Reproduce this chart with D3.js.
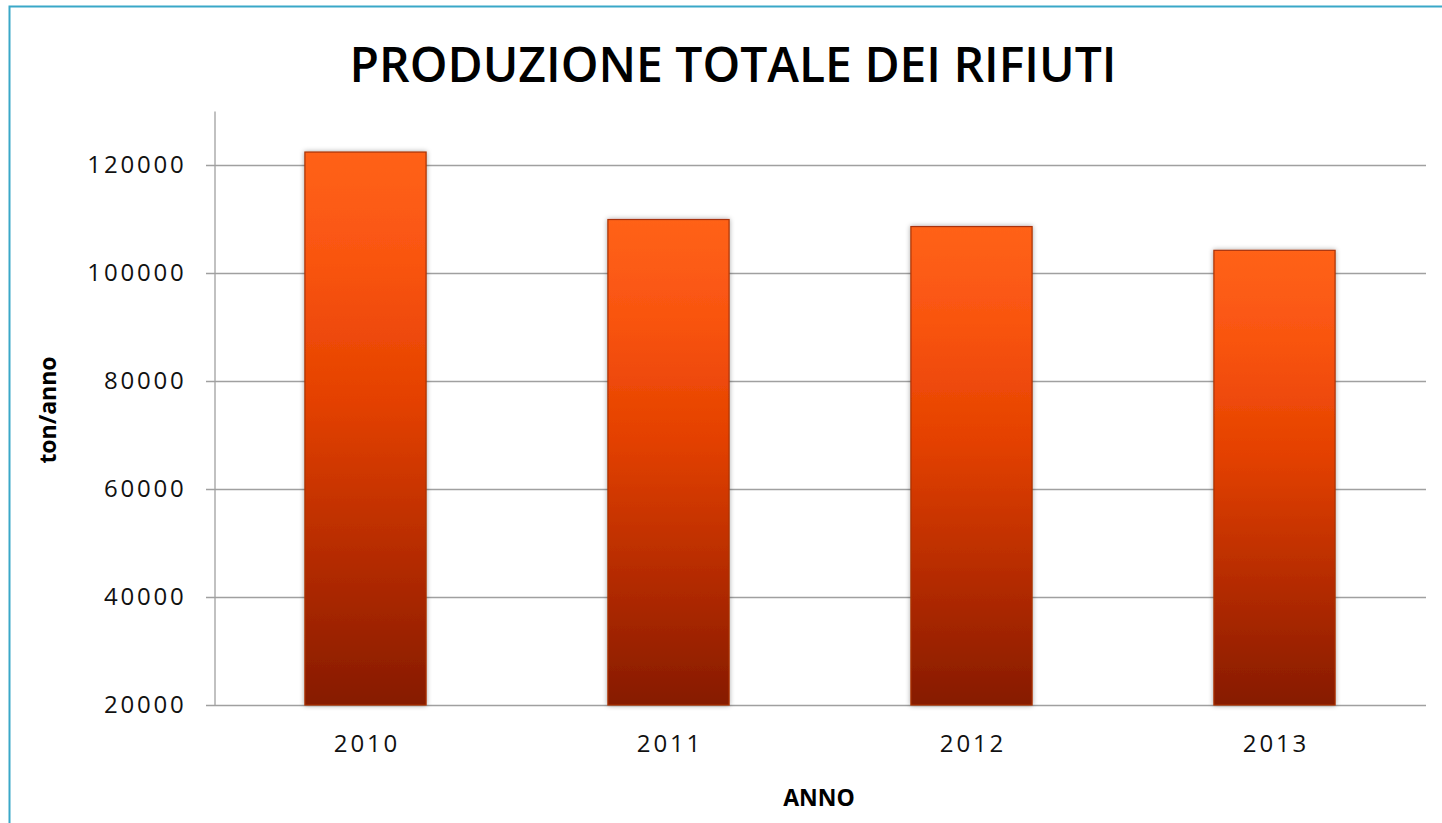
<!DOCTYPE html>
<html>
<head>
<meta charset="utf-8">
<script src="https://cdn.jsdelivr.net/npm/d3@7/dist/d3.min.js"></script>
<style>
  body { margin: 0; background: #fff; }
  svg { display: block; }
</style>
</head>
<body>
<div id="chart"></div>
<script>
// data
var years = ['2010', '2011', '2012', '2013'];
var totals = [122400, 109900, 108600, 104200];
var yTicks = [20000, 40000, 60000, 80000, 100000, 120000];

var W = 1442, H = 823;
var plotLeft = 214, plotRight = 1426, plotTop = 111, plotBottom = 705;

var svg = d3.select('#chart').append('svg')
  .attr('width', W)
  .attr('height', H);

var defs = svg.append('defs');
var grad = defs.append('linearGradient')
  .attr('id', 'barGrad')
  .attr('x1', 0).attr('y1', 0).attr('x2', 0).attr('y2', 1);
grad.append('stop').attr('offset', '0%').attr('stop-color', '#ff6219');
grad.append('stop').attr('offset', '20%').attr('stop-color', '#f95410');
grad.append('stop').attr('offset', '45%').attr('stop-color', '#e44100');
grad.append('stop').attr('offset', '75%').attr('stop-color', '#b22a00');
grad.append('stop').attr('offset', '100%').attr('stop-color', '#861b00');

var shadow = defs.append('filter').attr('id', 'shadow')
  .attr('x', '-10%').attr('y', '-5%').attr('width', '120%').attr('height', '110%');
shadow.append('feDropShadow')
  .attr('dx', 0).attr('dy', 0).attr('stdDeviation', 2.5)
  .attr('flood-color', '#000').attr('flood-opacity', 0.35);

// frame
svg.append('path')
  .attr('d', 'M' + W + ',6.5 H9.5 V' + H)
  .attr('fill', 'none')
  .attr('stroke', '#3aa8c8')
  .attr('stroke-width', 2);

// title
svg.append('text')
  .attr('x', 733)
  .attr('y', 82)
  .attr('text-anchor', 'middle')
  .style('font-family', 'Open Sans, sans-serif')
  .style('font-weight', 600)
  .style('font-size', '48px')
  .text('PRODUZIONE TOTALE DEI RIFIUTI');

var x = d3.scaleBand()
  .domain(years)
  .range([plotLeft, plotRight])
  .paddingInner(0.6)
  .paddingOuter(0.3);

var y = d3.scaleLinear()
  .domain([20000, 130000])
  .range([plotBottom, plotTop]);

// gridlines
svg.append('g')
  .selectAll('line')
  .data(yTicks)
  .enter().append('line')
  .attr('x1', plotLeft - 8)
  .attr('x2', plotRight)
  .attr('y1', function(d) { return Math.round(y(d)) + 0.5; })
  .attr('y2', function(d) { return Math.round(y(d)) + 0.5; })
  .attr('stroke', '#a0a0a0')
  .attr('stroke-width', 1.3);

// y axis
var yAxis = d3.axisLeft(y).tickValues(yTicks).tickSize(0).tickPadding(28)
  .tickFormat(d3.format('d'));
var gy = svg.append('g')
  .attr('transform', 'translate(' + (plotLeft + 0.5) + ',0)')
  .call(yAxis);
gy.select('.domain').attr('stroke', '#a0a0a0').attr('stroke-width', 1.3);
gy.selectAll('text')
  .style('font-family', 'Open Sans, sans-serif')
  .style('font-size', '24px')
  .style('letter-spacing', '2.8px')
  .attr('fill', '#111');

// bars
svg.append('g')
  .selectAll('rect')
  .data(totals)
  .enter().append('rect')
  .attr('x', function(d, i) { return x(years[i]); })
  .attr('y', function(d) { return y(d); })
  .attr('width', x.bandwidth())
  .attr('height', function(d) { return plotBottom - y(d); })
  .attr('fill', 'url(#barGrad)')
  .attr('stroke', '#a83208')
  .attr('stroke-width', 1.2)
  .attr('filter', 'url(#shadow)');

// x axis labels
var xAxis = d3.axisBottom(x).tickSize(0).tickPadding(30);
var gx = svg.append('g')
  .attr('transform', 'translate(0,' + plotBottom + ')')
  .call(xAxis);
gx.select('.domain').remove();
gx.selectAll('text')
  .attr('dx', '1.4px')
  .style('font-family', 'Open Sans, sans-serif')
  .style('font-size', '24px')
  .style('letter-spacing', '2.8px')
  .attr('fill', '#111');

// axis titles
svg.append('text')
  .attr('transform', 'translate(56,410) rotate(-90)')
  .attr('text-anchor', 'middle')
  .style('font-family', 'Open Sans, sans-serif')
  .style('font-weight', 700)
  .style('font-size', '23px')
  .text('ton/anno');

svg.append('text')
  .attr('x', 819)
  .attr('y', 806)
  .attr('text-anchor', 'middle')
  .style('font-family', 'Open Sans, sans-serif')
  .style('font-weight', 700)
  .style('font-size', '23px')
  .text('ANNO');
</script>
</body>
</html>
